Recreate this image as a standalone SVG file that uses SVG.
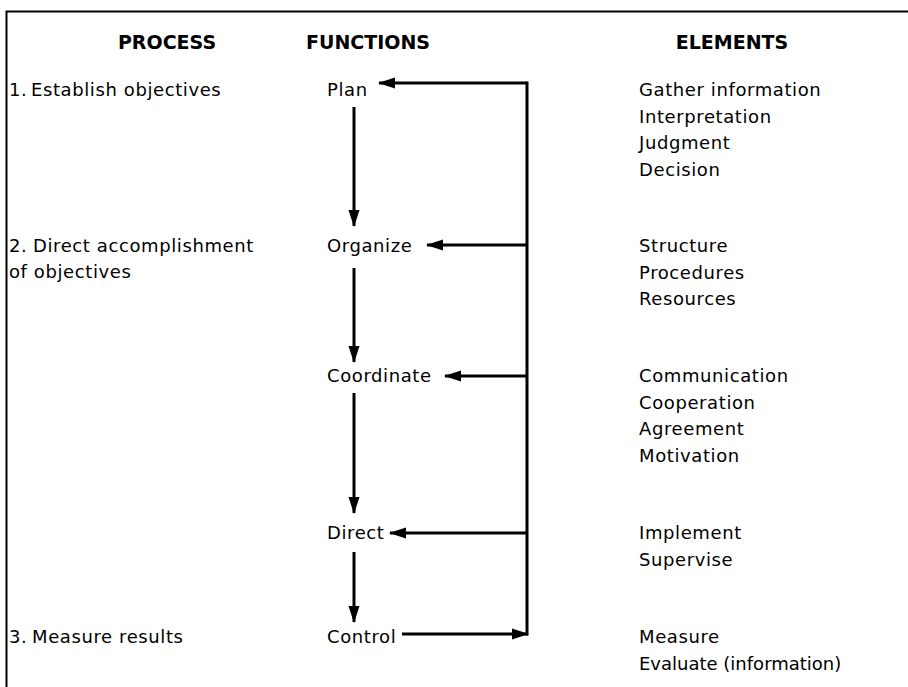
<svg xmlns="http://www.w3.org/2000/svg" width="908" height="687" viewBox="0 0 908 687">
<style>
text{font-family:"DejaVu Sans","Liberation Sans",sans-serif;font-size:18px;letter-spacing:0.6px;fill:#000}
.h{font-weight:bold;font-size:19px;letter-spacing:0;text-anchor:middle}
.ln{stroke:#000;stroke-width:3;fill:none}
</style>
<defs>
<marker id="ah" markerUnits="userSpaceOnUse" markerWidth="17" markerHeight="12" refX="16" refY="6" orient="auto">
<path d="M0,0.5 L17,6 L0,11.5 Z" fill="#000"/>
</marker>
</defs>
<rect width="908" height="687" fill="#fff"/>
<path d="M6.5,687 V11.5 H908" stroke="#000" stroke-width="2" fill="none"/>
<g id="headers">
<text class="h" x="167" y="49">PROCESS</text>
<text class="h" x="368" y="49">FUNCTIONS</text>
<text class="h" x="732" y="49">ELEMENTS</text>
</g>
<g id="process">
<text x="9" y="96">1.<tspan x="31">Establish objectives</tspan></text>
<text x="9" y="252">2.<tspan x="33">Direct accomplishment</tspan></text>
<text x="9" y="278">of objectives</text>
<text x="9" y="643">3.<tspan x="32">Measure results</tspan></text>
</g>
<g id="plan"><text x="327" y="96">Plan</text></g>
<g id="organize"><text x="327" y="252">Organize</text></g>
<g id="coordinate"><text x="327" y="382">Coordinate</text></g>
<g id="direct"><text x="327" y="539">Direct</text></g>
<g id="control"><text x="327" y="643">Control</text></g>
<g id="elements">
<text x="639" y="96">Gather information</text>
<text x="639" y="122.5">Interpretation</text>
<text x="639" y="149">Judgment</text>
<text x="639" y="175.5">Decision</text>
<text x="639" y="252">Structure</text>
<text x="639" y="278.5">Procedures</text>
<text x="639" y="305">Resources</text>
<text x="639" y="382">Communication</text>
<text x="639" y="408.5">Cooperation</text>
<text x="639" y="435">Agreement</text>
<text x="639" y="461.5">Motivation</text>
<text x="639" y="539">Implement</text>
<text x="639" y="565.5">Supervise</text>
<text x="639" y="643">Measure</text>
<text x="639" y="669.5" style="letter-spacing:0">Evaluate (information)</text>
</g>
<g id="connectors">
<line class="ln" x1="354" y1="107" x2="354" y2="226" marker-end="url(#ah)"/>
<line class="ln" x1="354" y1="268" x2="354" y2="362" marker-end="url(#ah)"/>
<line class="ln" x1="354" y1="393" x2="354" y2="513" marker-end="url(#ah)"/>
<line class="ln" x1="354" y1="552" x2="354" y2="622" marker-end="url(#ah)"/>
<line class="ln" x1="402" y1="634" x2="528" y2="634" marker-end="url(#ah)"/>
<line class="ln" x1="527" y1="81.5" x2="527" y2="635.5"/>
<line class="ln" x1="527" y1="83" x2="379" y2="83" marker-end="url(#ah)"/>
<line class="ln" x1="527" y1="245" x2="427" y2="245" marker-end="url(#ah)"/>
<line class="ln" x1="527" y1="376" x2="445" y2="376" marker-end="url(#ah)"/>
<line class="ln" x1="527" y1="533" x2="390" y2="533" marker-end="url(#ah)"/>
</g>
</svg>
